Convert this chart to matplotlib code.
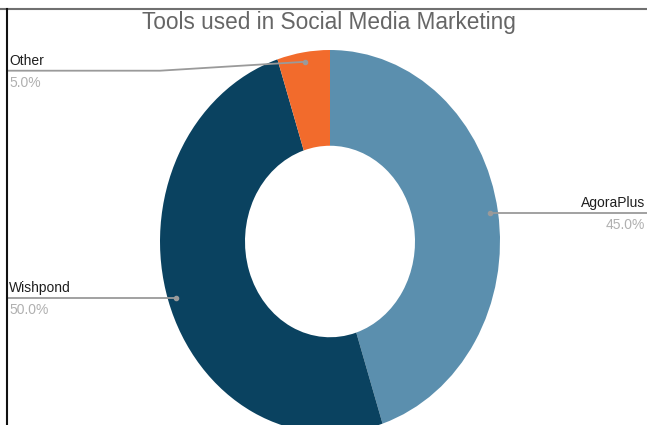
import numpy as np
import matplotlib
matplotlib.use("Agg")
import matplotlib.pyplot as plt
from matplotlib.lines import Line2D

title = "Tools used in Social Media Marketing"
labels = ["AgoraPlus", "Wishpond", "Other"]
values = [45.0, 50.0, 5.0]
colors = ["#5b8fae", "#0a4260", "#f26b2c"]

W, H = 647, 425
fig = plt.figure(figsize=(W / 100, H / 100), dpi=100)
ax = fig.add_axes([0, 0, 1, 1])

# pixel geometry of the (vertically stretched) donut
cx, cy, rx, ry = 330.0, 241.5, 170.0, 191.5

def px2d(px, py):
    return (px - cx) / rx, (cy - py) / ry

wedges, _ = ax.pie(values, colors=colors, startangle=90, counterclock=False,
                   radius=1.0, wedgeprops=dict(width=0.5, linewidth=0))
ax.set_aspect("auto")
x0, y0 = px2d(0, 0)
x1, y1 = px2d(W, H)
ax.set_xlim(x0, x1)
ax.set_ylim(y1, y0)
ax.axis("off")

line_c = "#9a9a9a"
name_c = "#1e1e1e"
pct_c = "#b0b0b0"
fs = 10
font = "Liberation Sans"
dy_name = 10 / ry
dy_pct = 12 / ry

total = sum(values)
for w, lab, v in zip(wedges, labels, values):
    ang = np.deg2rad((w.theta1 + w.theta2) / 2)
    dx, dy = 0.95 * np.cos(ang), 0.95 * np.sin(ang)
    ax.plot([dx], [dy], "o", color=line_c, ms=3, zorder=5)
    pct = f"{100 * v / total:.1f}%"
    if dx > 0:
        xe, _ = px2d(W + 5, 0)
        ax.plot([dx, xe], [dy, dy], color=line_c, lw=1.3, zorder=4)
        xt, _ = px2d(645, 0)
        ax.text(xt, dy + dy_name, lab, ha="right", va="center", fontsize=fs,
                color=name_c, family=font)
        ax.text(xt, dy - dy_pct, pct, ha="right", va="center", fontsize=fs,
                color=pct_c, family=font)
    else:
        xl, _ = px2d(8, 0)
        xt, _ = px2d(9, 0)
        if dy > 0.8:
            ly = px2d(0, 70.7)[1]
            xb = -1.0
            ax.plot([dx, xb, xl], [dy, ly, ly], color=line_c, lw=1.3, zorder=4)
        else:
            ly = dy
            ax.plot([dx, xl], [dy, dy], color=line_c, lw=1.3, zorder=4)
        ax.text(xt, ly + dy_name, lab, ha="left", va="center", fontsize=fs,
                color=name_c, family=font)
        ax.text(xt, ly - dy_pct, pct, ha="left", va="center", fontsize=fs,
                color=pct_c, family=font)

fig.text(329 / W, 1 - 22 / H, title, ha="center", va="center", fontsize=16.3,
         color="#666666", family=font)

# frame lines from the screenshot
fig.add_artist(Line2D([0, 1], [1 - 9 / H, 1 - 9 / H], color="#707070", lw=1.5,
                      transform=fig.transFigure))
fig.add_artist(Line2D([7 / W, 7 / W], [0, 1 - 9 / H], color="#111111", lw=1.5,
                      transform=fig.transFigure))

fig.savefig("out.png", dpi=100, facecolor="white")
